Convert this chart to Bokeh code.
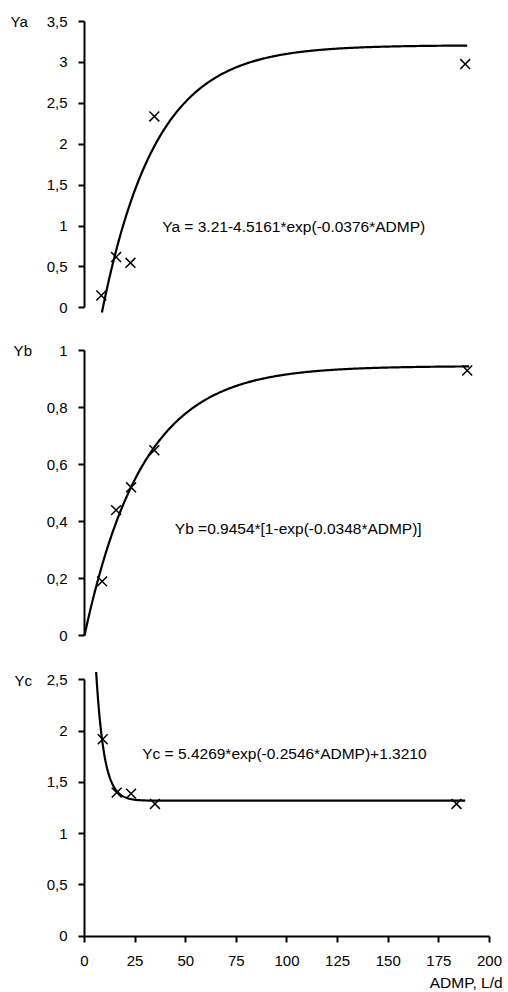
import numpy as np
from bokeh.plotting import figure
from bokeh.layouts import column
from bokeh.models import Range1d, FixedTicker, Label
from bokeh.embed import file_html
from bokeh.resources import INLINE

# ---------------- data ----------------
admp_a = [8.3, 15.6, 22.7, 34.5, 188.0]
ya_obs = [0.15, 0.62, 0.55, 2.34, 2.98]

admp_b = [8.7, 15.6, 23.0, 34.5, 189.0]
yb_obs = [0.19, 0.44, 0.52, 0.65, 0.93]

admp_c = [9.0, 15.9, 23.0, 34.8, 183.7]
yc_obs = [1.92, 1.40, 1.39, 1.29, 1.29]

# fitted equations printed on the chart
a_const, a_amp, a_rate = 3.21, 4.5161, 0.0376
b_amp, b_rate = 0.9454, 0.0348
c_amp, c_rate, c_const = 5.4269, 0.2546, 1.3210
fit_a_span = (8.6, 189.0)
fit_b_span = (0.0, 190.0)
fit_c_span = (5.75, 188.0)

eq_a = "Ya = 3.21-4.5161*exp(-0.0376*ADMP)"
eq_b = "Yb =0.9454*[1-exp(-0.0348*ADMP)]"
eq_c = "Yc = 5.4269*exp(-0.2546*ADMP)+1.3210"
x_title = "ADMP, L/d"

x_ticks = [0, 25, 50, 75, 100, 125, 150, 175, 200]
x_tick_labels = ["0", "25", "50", "75", "100", "125", "150", "175", "200"]
ya_ticks = [0, 0.5, 1, 1.5, 2, 2.5, 3, 3.5]
ya_tick_labels = ["0", "0,5", "1", "1,5", "2", "2,5", "3", "3,5"]
yb_ticks = [0, 0.2, 0.4, 0.6, 0.8, 1]
yb_tick_labels = ["0", "0,2", "0,4", "0,6", "0,8", "1"]
yc_ticks = [0, 0.5, 1, 1.5, 2, 2.5]
yc_tick_labels = ["0", "0,5", "1", "1,5", "2", "2,5"]

FONT = "Liberation Sans"
FS = "15px"
FS_EQ = "15.5px"
W = 506
X_RANGE = (-41.48, 208.4)


def make_panel(height, y_range, y_bounds, yticks, ylabels, show_x):
    p = figure(width=W, height=height, x_range=Range1d(*X_RANGE),
               y_range=Range1d(*y_range), output_backend="svg",
               toolbar_location=None, min_border=0, min_border_left=0,
               min_border_right=0, min_border_top=0, min_border_bottom=0)
    p.grid.visible = False
    p.outline_line_color = None
    p.background_fill_color = "white"
    p.border_fill_color = "white"
    ya = p.yaxis[0]
    ya.ticker = FixedTicker(ticks=yticks)
    ya.major_label_overrides = {float(t): l for t, l in zip(yticks, ylabels)}
    ya.bounds = y_bounds
    ya.fixed_location = 0
    xa = p.xaxis[0]
    for ax in [ya, xa]:
        ax.axis_line_width = 2
        ax.axis_line_color = "black"
        ax.major_tick_line_width = 2
        ax.major_tick_line_color = "black"
        ax.major_tick_out = 6
        ax.major_tick_in = 0
        ax.minor_tick_line_color = None
        ax.major_label_text_font = FONT
        ax.major_label_text_font_size = FS
        ax.major_label_text_color = "black"
        ax.major_label_standoff = 11
    if show_x:
        xa.ticker = FixedTicker(ticks=x_ticks)
        xa.major_label_overrides = {float(t): l for t, l in zip(x_ticks, x_tick_labels)}
        xa.bounds = (0, 200)
        xa.fixed_location = 0
        xa.major_label_standoff = 14
    else:
        xa.visible = False
    return p


def add_label(p, x, y, text, align="left", size=FS):
    p.add_layout(Label(x=x, y=y, text=text, text_font=FONT, text_font_size=size,
                       text_color="black", text_baseline="middle", text_align=align))


# ---- panel A ----
pa = make_panel(330, (-0.2775, 3.757), (0, 3.5), ya_ticks, ya_tick_labels, False)
xa_fit = np.linspace(fit_a_span[0], fit_a_span[1], 400)
pa.line(xa_fit, a_const - a_amp * np.exp(-a_rate * xa_fit), line_color="black", line_width=2.2)
pa.scatter(admp_a, ya_obs, marker="x", size=14, line_color="black", line_width=1.5)
add_label(pa, -36.5, 3.5, "Ya")
add_label(pa, 38.4, 1.0, eq_a, size=FS_EQ)

# ---- panel B ----
pb = make_panel(320, (-0.0526, 1.0702), (0, 1), yb_ticks, yb_tick_labels, False)
xb_fit = np.linspace(fit_b_span[0], fit_b_span[1], 400)
pb.line(xb_fit, b_amp * (1 - np.exp(-b_rate * xb_fit)), line_color="black", line_width=2.2)
pb.scatter(admp_b, yb_obs, marker="x", size=14, line_color="black", line_width=1.5)
add_label(pb, -35.0, 1.0, "Yb")
add_label(pb, 44.6, 0.375, eq_b, size=FS_EQ)

# ---- panel C ----
pc = make_panel(340, (-0.5294, 2.7857), (0, 2.5), yc_ticks, yc_tick_labels, True)
xc_fit = np.linspace(fit_c_span[0], fit_c_span[1], 600)
pc.line(xc_fit, c_amp * np.exp(-c_rate * xc_fit) + c_const, line_color="black", line_width=2.2)
pc.scatter(admp_c, yc_obs, marker="x", size=14, line_color="black", line_width=1.5)
add_label(pc, -34.6, 2.49, "Yc")
add_label(pc, 28.5, 1.78, eq_c, size=FS_EQ)
add_label(pc, 206.5, -0.45, x_title, align="right", size=FS_EQ)

layout = column(pa, pb, pc, spacing=0)
open("out.html", "w").write(file_html(layout, INLINE))
